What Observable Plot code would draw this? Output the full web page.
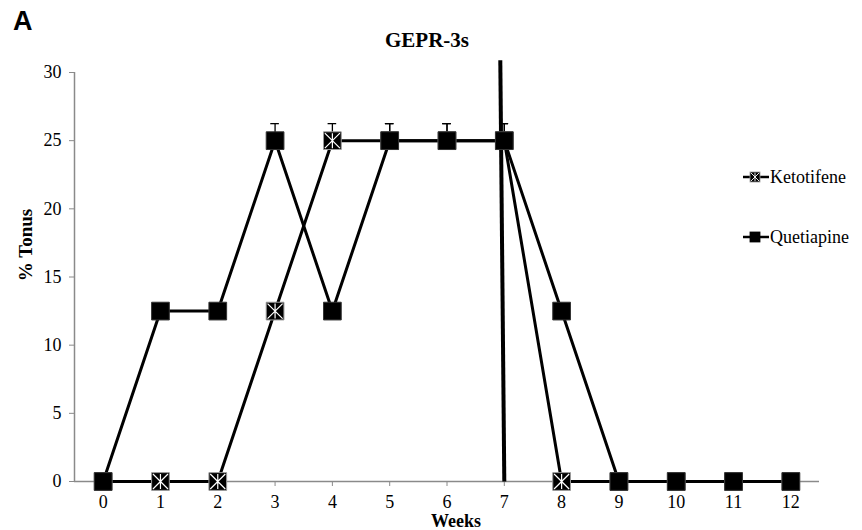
<!DOCTYPE html>
<html>
<head>
<meta charset="utf-8">
<script src="https://cdn.jsdelivr.net/npm/d3@7"></script>
<script src="https://cdn.jsdelivr.net/npm/@observablehq/plot@0.6"></script>
<style>
  html, body { margin: 0; padding: 0; background: #fff; }
  #wrap { position: relative; width: 862px; height: 530px; }
  #wrap > svg { position: absolute; left: 0; top: 0; }
  .ann { position: absolute; left: 0; top: 0; pointer-events: none; }
  #wrap svg text { font-family: "Liberation Serif", "DejaVu Serif", "Times New Roman", serif; }
  #wrap svg text.sans { font-family: "Liberation Sans", Arial, sans-serif; }
</style>
</head>
<body>
<div id="wrap"></div>
<script>
// ---- Data ----
const weeks = [0, 1, 2, 3, 4, 5, 6, 7, 8, 9, 10, 11, 12];
const ketotifene = [0, 0, 0, 12.5, 25, 25, 25, 25, 0, 0, 0, 0, 0];
const quetiapine = [0, 12.5, 12.5, 25, 12.5, 25, 25, 25, 12.5, 0, 0, 0, 0];
const ketotifeneErr = [0, 0, 0, 0, 1.25, 1.25, 1.25, 1.25, 0, 0, 0, 0, 0];
const quetiapineErr = [0, 0, 0, 1.25, 0, 1.25, 1.25, 1.25, 0, 0, 0, 0, 0];
const seriesNames = ["Ketotifene", "Quetiapine"];
const yTicks = [0, 5, 10, 15, 20, 25, 30];
const markerWeek = 7;          // vertical line week
const markerTop = 30.9;        // top of the vertical line (y units)
const markerTopWeek = 6.93;    // slight slant at the top

const ket = weeks.map((w, i) => ({week: w, value: ketotifene[i], err: ketotifeneErr[i]}));
const que = weeks.map((w, i) => ({week: w, value: quetiapine[i], err: quetiapineErr[i]}));
const errs = [...ket, ...que].filter(d => d.err > 0);

const asterisk = {
  draw(ctx, size) {
    const r = Math.sqrt(size) / 2;
    ctx.moveTo(-r, -r); ctx.lineTo(r, r);
    ctx.moveTo(r, -r); ctx.lineTo(-r, r);
    ctx.moveTo(0, -r); ctx.lineTo(0, r);
  }
};

const axisGray = "#8a8a8a";
const capHalf = 0.075;

const chart = Plot.plot({
  width: 862,
  height: 530,
  marginLeft: 74,
  marginRight: 43,
  marginTop: 72,
  marginBottom: 49,
  style: {fontSize: "18px", color: "#000", background: "#fff"},
  x: {domain: [-0.5, 12.5]},
  y: {domain: [0, 30]},
  marks: [
    Plot.ruleX([-0.5], {y1: 0, y2: 30, stroke: axisGray, strokeWidth: 1.5}),
    Plot.ruleY([0], {stroke: axisGray, strokeWidth: 1.5}),
    Plot.axisY({ticks: yTicks, tickSize: 5, tickPadding: 8, stroke: axisGray, label: null, fill: "#000"}),
    Plot.axisX({ticks: weeks, tickSize: 5, tickPadding: 9, stroke: axisGray, label: null, fill: "#000"}),
    // error bars
    Plot.ruleX(errs, {x: "week", y1: "value", y2: d => d.value + d.err, stroke: "#000", strokeWidth: 1.3}),
    Plot.ruleY(errs, {y: d => d.value + d.err, x1: d => d.week - capHalf, x2: d => d.week + capHalf, stroke: "#000", strokeWidth: 1.3}),
    // lines
    Plot.line(ket, {x: "week", y: "value", stroke: "#000", strokeWidth: 3}),
    Plot.line(que, {x: "week", y: "value", stroke: "#000", strokeWidth: 3}),
    // vertical line at week 7
    Plot.link([{x1: markerTopWeek, y1: markerTop, x2: markerWeek, y2: 0}], {x1: "x1", y1: "y1", x2: "x2", y2: "y2", stroke: "#000", strokeWidth: 4, clip: false}),
    // Ketotifene markers
    Plot.dot(ket, {x: "week", y: "value", symbol: "square", r: 10, fill: "#000", stroke: "#9a9a9a", strokeWidth: 1}),
    Plot.dot(ket, {x: "week", y: "value", symbol: asterisk, r: 8.5, fill: "none", stroke: "#fff", strokeWidth: 1.2}),
    // Quetiapine markers
    Plot.dot(que, {x: "week", y: "value", symbol: "square", r: 10, fill: "#000", stroke: "#333", strokeWidth: 1})
  ]
});

const wrap = document.getElementById("wrap");
wrap.appendChild(chart);

// Annotations: panel letter, title, axis labels, legend
const ann = d3.select(wrap).append("svg").attr("class", "ann").attr("width", 862).attr("height", 530);

ann.append("text").attr("class", "sans").attr("x", 13).attr("y", 30)
  .attr("font-weight", "bold").attr("font-size", 27)
  .text("A");
ann.append("text").attr("x", 427).attr("y", 47).attr("text-anchor", "middle")
  .attr("font-weight", "bold").attr("font-size", 21)
  .text("GEPR-3s");
ann.append("text").attr("x", 456).attr("y", 527).attr("text-anchor", "middle")
  .attr("font-weight", "bold").attr("font-size", 18)
  .text("Weeks");
ann.append("text").attr("transform", "translate(32,245) rotate(-90)").attr("text-anchor", "middle")
  .attr("font-weight", "bold").attr("font-size", 19)
  .text("% Tonus");

// legend
const legendRows = [
  {name: seriesNames[0], y: 177, kind: "ket"},
  {name: seriesNames[1], y: 237, kind: "que"}
];
legendRows.forEach(row => {
  const g = ann.append("g");
  g.append("line").attr("x1", 743).attr("x2", 769).attr("y1", row.y).attr("y2", row.y)
    .attr("stroke", "#000").attr("stroke-width", 2.5);
  g.append("rect").attr("x", 750).attr("y", row.y - 5).attr("width", 10).attr("height", 10)
    .attr("fill", "#000").attr("stroke", row.kind === "ket" ? "#9a9a9a" : "#000").attr("stroke-width", 0.8);
  if (row.kind === "ket") {
    const c = 755, r = 4.2;
    g.append("path").attr("d", `M${c - r},${row.y - r}L${c + r},${row.y + r}M${c + r},${row.y - r}L${c - r},${row.y + r}M${c},${row.y - r}L${c},${row.y + r}`)
      .attr("stroke", "#fff").attr("stroke-width", 0.9).attr("fill", "none");
  }
  g.append("text").attr("x", 770).attr("y", row.y + 6)
    .attr("font-size", 18).text(row.name);
});
</script>
</body>
</html>
